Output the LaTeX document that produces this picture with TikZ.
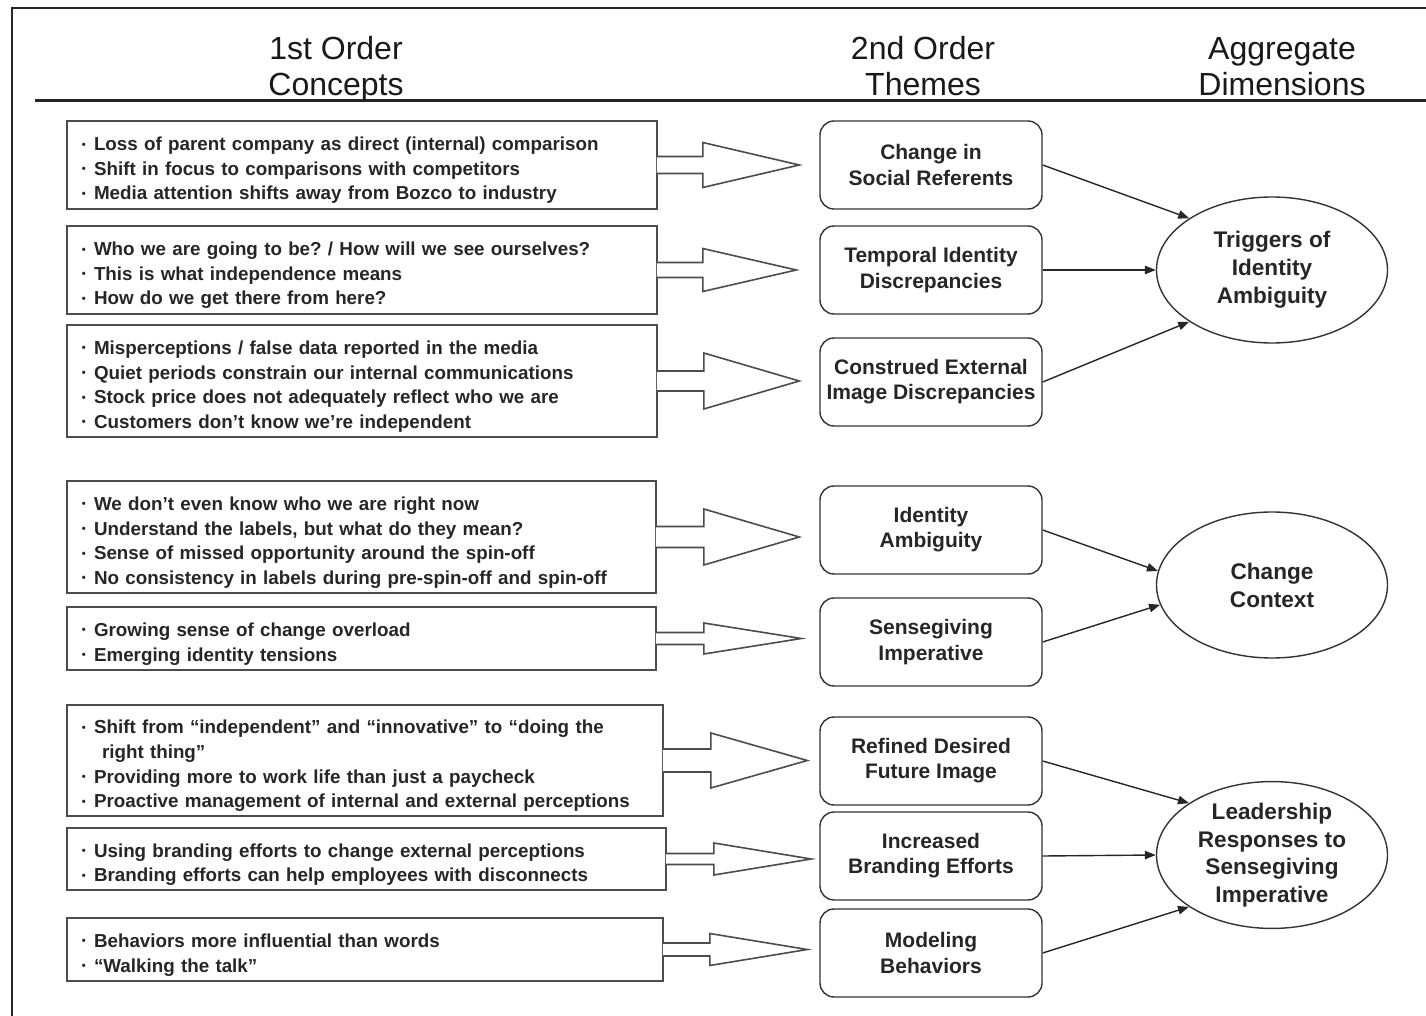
\documentclass[tikz,border=0pt]{standalone}
\usepackage{fontspec}
\setmainfont{Liberation Sans}
\frenchspacing
\usetikzlibrary{arrows.meta,calc,shapes.geometric}
\newcommand\bul{\makebox[6pt][l]{\raisebox{1.3pt}{\fontsize{5.6}{5.6}\selectfont •}}}
\newcommand\itm[1]{\par\noindent\hangindent=10pt\hangafter=1\bul#1}
\newcommand\blockarr[6]{%
  \filldraw[blockarrow] ($(#1.east)+(-1,-#4)$) -- ($(#1.east)+(#3,-#4)$) -- ($(#1.east)+(#3,-#5)$)
    -- ($(#1.east -| #2.west)+(-#6,0)$) -- ($(#1.east)+(#3,#5)$) -- ($(#1.east)+(#3,#4)$)
    -- ($(#1.east)+(-1,#4)$);}
\tikzset{
  frameline/.style={draw=black!85, line width=0.8pt},
  rule/.style={draw=black!85, line width=1.5pt},
  hnode/.style={font=\fontsize{16}{18}\selectfont, anchor=base, text=black!90, inner sep=0pt},
  conc/.style={draw=black!70, line width=0.8pt, align=left, inner xsep=7.5pt, inner ysep=0pt,
    text=black!85, font=\fontsize{9.4}{12.3}\selectfont\bfseries},
  theme/.style={draw=black!80, line width=0.7pt, rounded corners=7pt, minimum width=111pt,
    minimum height=44pt, align=center, inner sep=2pt, text=black!85,
    font=\fontsize{10.5}{12.6}\selectfont\bfseries},
  dim/.style={ellipse, draw=black!80, line width=0.7pt, minimum width=115.5pt, minimum height=73pt,
    inner sep=0pt, align=center, text=black!85, font=\fontsize{11.3}{14}\selectfont\bfseries},
  blockarrow/.style={fill=white, draw=black!70, line width=0.8pt, line join=miter},
  conn/.style={draw=black!85, line width=0.7pt, -{Triangle[length=5.5pt,width=4.2pt]}}
}
\begin{document}
\begin{tikzpicture}[x=0.5pt,y=-0.5pt]
\useasboundingbox (0,0) rectangle (1426,1016);
% frame and header rule
\coordinate (fb) at (12,1016);
\coordinate (fc) at (12,8);
\coordinate (fr) at (1426,8);
\draw[frameline] (fb) -- (fc) -- (fr);
\coordinate (rl) at (35,101);
\coordinate (rr) at (1426,101);
\draw[rule] (rl) -- (rr);
% headers
\node[hnode] (h1a) at (336,60) {1st Order};
\node[hnode] (h1b) at (336,96) {Concepts};
\node[hnode] (h2a) at (923,60) {2nd Order};
\node[hnode] (h2b) at (923,96) {Themes};
\node[hnode] (h3a) at (1282,60) {Aggregate};
\node[hnode] (h3b) at (1282,96) {Dimensions};
% 1st order concept boxes
\node[conc, text width=280pt, minimum height=44pt] (b1) at (362,165) {%
  \itm{Loss of parent company as direct (internal) comparison}
  \itm{Shift in focus to comparisons with competitors}
  \itm{Media attention shifts away from Bozco to industry}};
\node[conc, text width=280pt, minimum height=44pt] (b2) at (362,270) {%
  \itm{Who we are going to be? / How will we see ourselves?}
  \itm{This is what independence means}
  \itm{How do we get there from here?}};
\node[conc, text width=280pt, minimum height=56pt] (b3) at (362,381) {%
  \itm{Misperceptions / false data reported in the media}
  \itm{Quiet periods constrain our internal communications}
  \itm{Stock price does not adequately reflect who we are}
  \itm{Customers don’t know we’re independent}};
\node[conc, text width=279.5pt, minimum height=56pt] (b4) at (361.5,537) {%
  \itm{We don’t even know who we are right now}
  \itm{Understand the labels, but what do they mean?}
  \itm{Sense of missed opportunity around the spin-off}
  \itm{No consistency in labels during pre-spin-off and spin-off}};
\node[conc, text width=279.5pt, minimum height=31.5pt] (b5) at (361.5,638.5) {%
  \itm{Growing sense of change overload}
  \itm{Emerging identity tensions}};
\node[conc, text width=283pt, minimum height=55.5pt] (b6) at (365,760.5) {%
  \itm{Shift from “independent” and “innovative” to “doing the right thing”}
  \itm{Providing more to work life than just a paycheck}
  \itm{Proactive management of internal and external perceptions}};
\node[conc, text width=284.5pt, minimum height=31pt] (b7) at (366.5,859) {%
  \itm{Using branding efforts to change external perceptions}
  \itm{Branding efforts can help employees with disconnects}};
\node[conc, text width=283pt, minimum height=31.5pt] (b8) at (365,949.5) {%
  \itm{Behaviors more influential than words}
  \itm{“Walking the talk”}};
% 2nd order themes
\node[theme] (t1) at (931,165) {Change in\\Social Referents};
\node[theme] (t2) at (931,270) {Temporal Identity\\Discrepancies};
\node[theme] (t3) at (931,382) {Construed External\\Image Discrepancies};
\node[theme] (t4) at (931,530) {Identity\\Ambiguity};
\node[theme] (t5) at (931,642) {Sensegiving\\Imperative};
\node[theme] (t6) at (931,761) {Refined Desired\\Future Image};
\node[theme] (t7) at (931,856) {Increased\\Branding Efforts};
\node[theme] (t8) at (931,953) {Modeling\\Behaviors};
% aggregate dimensions
\node[dim] (e1) at (1272,270) {Triggers of\\Identity\\Ambiguity};
\node[dim] (e2) at (1272,585) {Change\\Context};
\node[dim, font=\fontsize{11.3}{13.8}\selectfont\bfseries] (e3) at (1272,855) {Leadership\\Responses to\\Sensegiving\\Imperative};
% block arrows
\blockarr{b1}{t1}{45}{8.5}{22.5}{20}
\blockarr{b2}{t2}{45}{7.5}{21.5}{23}
\blockarr{b3}{t3}{46}{10}{28}{20}
\blockarr{b4}{t4}{47}{10.5}{28}{20}
\blockarr{b5}{t5}{47}{6}{15.5}{18}
\blockarr{b6}{t6}{47}{11.5}{27.5}{12}
\blockarr{b7}{t7}{47}{5.5}{16}{8}
\blockarr{b8}{t8}{46}{6.5}{16}{12}
% connectors
\draw[conn] (t1.east) -- (e1.148);
\draw[conn] (t2.east) -- (e1.west);
\draw[conn] (t3.east) -- (e1.212);
\draw[conn] (t4.east) -- (e2.173);
\draw[conn] (t5.east) -- (e2.190);
\draw[conn] (t6.east) -- (e3.148);
\draw[conn] (t7.east) -- (e3.west);
\draw[conn] (t8.east) -- (e3.212);
\end{tikzpicture}
\end{document}
